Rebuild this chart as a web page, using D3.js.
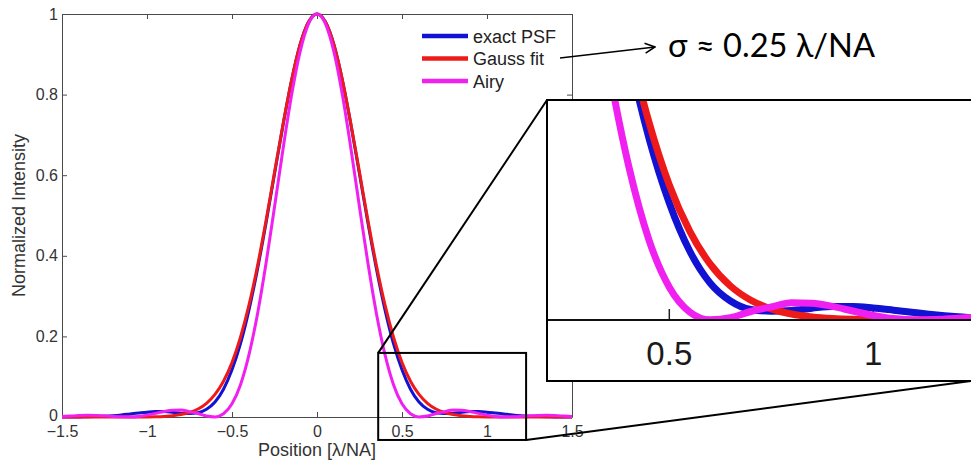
<!DOCTYPE html>
<html><head><meta charset="utf-8">
<script src="https://cdn.jsdelivr.net/npm/d3@7"></script>
<style>body{margin:0;background:#fff}svg{display:block}</style>
</head><body>
<svg id="c" width="971" height="465"></svg>
<script>
// ---------- data ----------
const positions = [-1.5,-1.45,-1.4,-1.35,-1.3,-1.25,-1.2,-1.15,-1.1,-1.05,-1,-0.95,-0.9,-0.85,-0.8,-0.75,-0.7,-0.65,-0.6,-0.55,-0.5,-0.45,-0.4,-0.35,-0.3,-0.25,-0.2,-0.15,-0.1,-0.05,
  0,0.05,0.1,0.15,0.2,0.25,0.3,0.35,0.4,0.45,0.5,0.55,0.6,0.65,0.7,0.75,0.8,0.85,0.9,0.95,1,1.05,1.1,1.15,1.2,1.25,1.3,1.35,1.4,1.45,1.5];
const exactPSF = [0,0.0001,0.0003,0.0006,0.0012,0.0021,0.0034,0.0052,0.0075,0.0098,0.0120,0.0135,0.0135,0.0118,0.0095,0.0088,0.0105,0.019,0.037,0.069,0.117,0.182,0.266,0.367,0.481,0.603,0.724,0.834,0.923,0.980,
  1,0.980,0.923,0.834,0.724,0.603,0.481,0.367,0.266,0.182,0.117,0.069,0.037,0.019,0.0105,0.0088,0.0095,0.0118,0.0135,0.0135,0.0120,0.0098,0.0075,0.0052,0.0034,0.0021,0.0012,0.0006,0.0003,0.0001,0];
const gaussFit = [0,0,0,0,0,0,0,0,0.0001,0.0001,0.0003,0.0007,0.0015,0.0031,0.0060,0.0111,0.0198,0.0340,0.0561,0.0889,0.135,0.198,0.278,0.375,0.487,0.607,0.726,0.835,0.923,0.980,
  1,0.980,0.923,0.835,0.726,0.607,0.487,0.375,0.278,0.198,0.135,0.0889,0.0561,0.0340,0.0198,0.0111,0.0060,0.0031,0.0015,0.0007,0.0003,0.0001,0.0001,0,0,0,0,0,0,0,0];
const airy = [0.0013,0.0025,0.0036,0.0042,0.0039,0.0028,0.0015,0.0005,0.0001,0.0014,0.0046,0.0090,0.0136,0.0168,0.0173,0.0131,0.0085,0.0023,0.0002,0.0081,0.0328,0.0802,0.1546,0.2557,0.3807,0.5209,0.6645,0.7975,0.9053,0.9755,
  1,0.9755,0.9053,0.7975,0.6645,0.5209,0.3807,0.2557,0.1546,0.0802,0.0328,0.0081,0.0002,0.0023,0.0085,0.0131,0.0173,0.0168,0.0136,0.0090,0.0046,0.0014,0.0001,0.0005,0.0015,0.0028,0.0039,0.0042,0.0036,0.0025,0.0013];

const seriesNames = ["exact PSF","Gauss fit","Airy"];
const seriesColors = ["#1212d2","#ee1a1a","#f020f0"];

const xTickValues = [-1.5,-1,-0.5,0,0.5,1,1.5];
const xTickLabels = ["\u22121.5","\u22121","\u22120.5","0","0.5","1","1.5"];
const yTickValues = [0,0.2,0.4,0.6,0.8,1];
const yTickLabels = ["0","0.2","0.4","0.6","0.8","1"];
const xAxisTitle = "Position [\u03bb/NA]";
const yAxisTitle = "Normalized Intensity";

const zoomRegionX = [0.36,1.23];      // data range marked in main plot
const zoomRegionY = [-0.057,0.159];
const zoomDomainX = [0.2,1.24];       // inset view
const zoomDomainY = [0,0.22];
const zoomTickValues = [0.5,1];
const zoomTickLabels = ["0.5","1"];
const annotation = "\u03c3 \u2248 0.25 \u03bb/NA";

// ---------- layout ----------
const svg = d3.select("#c");
const M = {l:62, r:572, t:14, b:417};
const x = d3.scaleLinear([-1.5,1.5],[M.l,M.r]);
const y = d3.scaleLinear([0,1],[M.b,M.t]);
const axisColor = "#4a4a4a", labelColor = "#333";
const tickFont = "Liberation Sans, Arial, sans-serif";

const series = [exactPSF,gaussFit,airy].map((vals,i)=>({name:seriesNames[i],color:seriesColors[i],
  pts:positions.map((p,j)=>[p,vals[j]])}));

function styleAxis(g, labels){
  g.select(".domain").attr("stroke",axisColor).attr("stroke-width",1);
  g.selectAll(".tick line").attr("stroke",axisColor);
  g.selectAll(".tick text").attr("fill",labelColor).style("font-family",tickFont).style("font-size","16px");
  if(!labels) g.selectAll(".tick text").remove();
}
svg.append("g").attr("transform",`translate(0,${M.b})`)
  .call(d3.axisBottom(x).tickValues(xTickValues).tickFormat((d,i)=>xTickLabels[i]).tickSizeInner(-5).tickSizeOuter(0).tickPadding(9))
  .call(g=>styleAxis(g,true));
svg.append("g").attr("transform",`translate(0,${M.t})`)
  .call(d3.axisTop(x).tickValues(xTickValues).tickSizeInner(-5).tickSizeOuter(0))
  .call(g=>styleAxis(g,false));
svg.append("g").attr("transform",`translate(${M.l},0)`)
  .call(d3.axisLeft(y).tickValues(yTickValues).tickFormat((d,i)=>yTickLabels[i]).tickSizeInner(-5).tickSizeOuter(0).tickPadding(4))
  .call(g=>styleAxis(g,true))
  .call(g=>g.selectAll(".tick text").filter(d=>d===0).attr("dy","0.2em"));
svg.append("g").attr("transform",`translate(${M.r},0)`)
  .call(d3.axisRight(y).tickValues(yTickValues).tickSizeInner(-5).tickSizeOuter(0))
  .call(g=>styleAxis(g,false));

svg.append("text").attr("x",(M.l+M.r)/2).attr("y",456).attr("text-anchor","middle")
  .attr("fill",labelColor).style("font-family",tickFont).style("font-size","18px").text(xAxisTitle);
svg.append("text").attr("transform",`translate(25,${(M.t+M.b)/2}) rotate(-90)`).attr("text-anchor","middle")
  .attr("fill",labelColor).style("font-family",tickFont).style("font-size","18px").text(yAxisTitle);

// main curves
const line = d3.line().curve(d3.curveMonotoneX).x(d=>x(d[0])).y(d=>y(d[1]));
svg.append("g").selectAll("path").data(series).join("path")
  .attr("d",d=>line(d.pts)).attr("fill","none").attr("stroke",d=>d.color).attr("stroke-width",3)
  .attr("stroke-linejoin","round");

// legend
const lg = svg.append("g");
series.forEach((s,i)=>{
  const ly = 36 + i*22.5;
  lg.append("line").attr("x1",422).attr("x2",468).attr("y1",ly).attr("y2",ly)
    .attr("stroke",s.color).attr("stroke-width",4.5);
  lg.append("text").attr("x",473).attr("y",ly+6.5).attr("fill","#222")
    .style("font-family",tickFont).style("font-size","18px").text(s.name);
});

// zoom marker rectangle
const zx0 = x(zoomRegionX[0]), zx1 = x(zoomRegionX[1]), zy0 = y(zoomRegionY[1]), zy1 = y(zoomRegionY[0]);
svg.append("rect").attr("x",zx0).attr("y",zy0).attr("width",zx1-zx0).attr("height",zy1-zy0)
  .attr("fill","none").attr("stroke","#000").attr("stroke-width",2);

// inset
const I = {l:547, r:971, t:100, axis:320, b:381};
const ix = d3.scaleLinear(zoomDomainX,[I.l,I.r]);
const iy = d3.scaleLinear(zoomDomainY,[I.axis,I.t]);
svg.append("line").attr("x1",zx0).attr("y1",zy0).attr("x2",I.l).attr("y2",I.t).attr("stroke","#000").attr("stroke-width",2);
svg.append("line").attr("x1",zx1).attr("y1",zy1).attr("x2",I.r).attr("y2",I.b).attr("stroke","#000").attr("stroke-width",2);

const ig = svg.append("g");
ig.append("rect").attr("x",I.l).attr("y",I.t).attr("width",I.r-I.l+5).attr("height",I.b-I.t).attr("fill","#fff");
svg.append("defs").append("clipPath").attr("id","ic").append("rect")
  .attr("x",I.l).attr("y",I.t).attr("width",I.r-I.l).attr("height",I.axis-I.t);
ig.append("g").selectAll("line").data(zoomTickValues).join("line")
  .attr("x1",d=>ix(d)).attr("x2",d=>ix(d)).attr("y1",I.axis).attr("y2",I.axis-11)
  .attr("stroke","#222").attr("stroke-width",1.5);
const iline = d3.line().curve(d3.curveMonotoneX).x(d=>ix(d[0])).y(d=>iy(d[1]));
ig.append("g").attr("clip-path","url(#ic)").selectAll("path").data(series).join("path")
  .attr("d",d=>iline(d.pts)).attr("fill","none").attr("stroke",d=>d.color).attr("stroke-width",7)
  .attr("stroke-linejoin","round");
ig.append("line").attr("x1",I.l).attr("x2",I.r+5).attr("y1",I.axis).attr("y2",I.axis).attr("stroke","#111").attr("stroke-width",2);
ig.append("rect").attr("x",I.l).attr("y",I.t).attr("width",I.r-I.l+10).attr("height",I.b-I.t)
  .attr("fill","none").attr("stroke","#000").attr("stroke-width",2);
ig.append("g").selectAll("text").data(zoomTickValues).join("text")
  .attr("x",d=>ix(d)).attr("y",365).attr("text-anchor","middle").attr("fill","#1a1a1a")
  .style("font-family",tickFont).style("font-size","33px").text((d,i)=>zoomTickLabels[i]);

// annotation arrow
svg.append("defs").append("marker").attr("id","arr").attr("viewBox","0 0 12 12").attr("refX",11).attr("refY",6)
  .attr("markerWidth",12).attr("markerHeight",12).attr("markerUnits","userSpaceOnUse").attr("orient","auto")
  .append("path").attr("d","M1,1 L11,6 L1,11").attr("fill","none").attr("stroke","#000").attr("stroke-width",1.6);
svg.append("line").attr("x1",560).attr("y1",58).attr("x2",655).attr("y2",47).attr("stroke","#000").attr("stroke-width",1.6)
  .attr("marker-end","url(#arr)");
const at = svg.append("text").attr("x",668).attr("y",57).attr("fill","#000")
  .style("font-family","Lato, 'Open Sans', sans-serif").style("font-size","30px").text(annotation);
const w = at.node().getComputedTextLength();
at.style("font-size",(30*207/w).toFixed(2)+"px");
</script>
</body></html>
